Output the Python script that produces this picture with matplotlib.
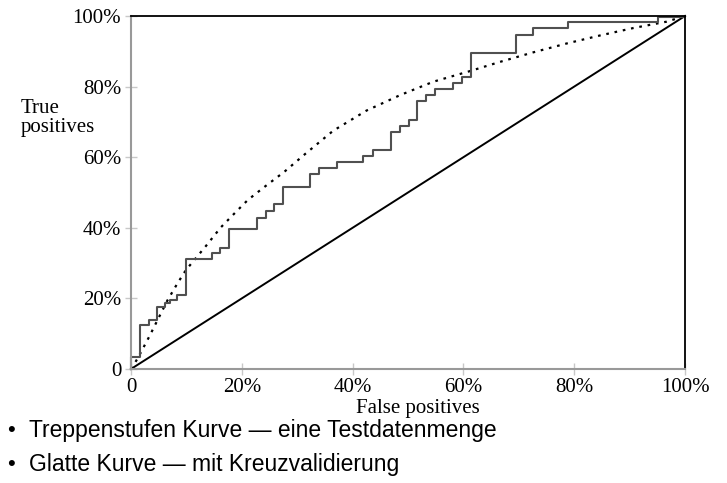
import matplotlib
matplotlib.use('Agg')
import matplotlib.pyplot as plt

# Step curve (one test set): FP positions where TP jumps, and TP after the jump (in %)
step_fp = [0, 0, 1.6, 3.25, 4.75, 6.1, 7.0, 8.25, 9.9, 14.6, 16.1, 17.7, 22.7, 24.3, 25.8,
           27.5, 32.4, 34.0, 37.2, 41.9, 43.6, 46.9, 48.6, 50.1, 51.7, 53.2, 54.9, 58.2,
           59.8, 61.4, 69.5, 72.6, 78.9, 95.2, 100]
step_tp = [0, 3.5, 12.5, 13.9, 17.6, 18.6, 19.5, 21.0, 31.1, 32.8, 34.4, 39.8, 42.9, 44.7, 46.7,
           51.6, 55.2, 57.0, 58.7, 60.3, 61.9, 67.2, 68.9, 70.5, 75.9, 77.6, 79.2, 80.9,
           82.6, 89.6, 94.7, 96.5, 98.2, 99.7, 100]

# Smooth curve (cross-validation)
smooth_fp = [0, 1.2, 3.3, 4.8, 6.6, 8.4, 9.9, 11.7, 13.5, 16.2, 19.0, 21.1, 24.1, 27.7, 31.5,
             36.5, 42.5, 48.6, 54.6, 61.2, 66.6, 72.6, 78.6, 84.7, 90.7, 96.7, 100]
smooth_tp = [0, 3.0, 9.2, 13.9, 19.5, 24.3, 28.0, 31.4, 34.8, 40.1, 44.6, 47.9, 51.6, 55.9, 61.0,
             67.5, 73.2, 77.6, 81.4, 84.4, 87.0, 89.7, 92.2, 94.5, 96.6, 98.4, 100]

diag = [0, 100]

ticks = [0, 20, 40, 60, 80, 100]
tick_labels = ['0', '20%', '40%', '60%', '80%', '100%']

serif = 'Liberation Serif'
sans = 'Liberation Sans'

fig = plt.figure(figsize=(7.27, 4.83), dpi=100)
ax = fig.add_axes([131 / 727, 1 - 369 / 483, 554 / 727, 353 / 483])

ax.plot(diag, diag, color='black', linewidth=1.4, clip_on=False)
ax.plot(smooth_fp, smooth_tp, color='black', linewidth=1.6, linestyle=(0, (1.2, 2.6)), clip_on=False)
ax.plot(step_fp, step_tp, color='#505050', linewidth=1.5, drawstyle='steps-post', clip_on=False)

ax.set_xlim(0, 100)
ax.set_ylim(0, 100)
ax.set_xticks(ticks)
ax.set_yticks(ticks)
ax.set_xticklabels(tick_labels, fontfamily=serif, fontsize=15)
ax.set_yticklabels(tick_labels, fontfamily=serif, fontsize=15)
ax.tick_params(direction='inout', length=8, width=1, color='#c8c8c8')
ax.tick_params(axis='x', pad=2.5)
ax.tick_params(axis='y', pad=3)

for s in ['left', 'bottom']:
    ax.spines[s].set_color('#999999')
    ax.spines[s].set_linewidth(1.5)
for s in ['top', 'right']:
    ax.spines[s].set_color('black')
    ax.spines[s].set_linewidth(1.3)

fig.text(21 / 727, 1 - 118 / 483, 'True\npositives', ha='left', va='center',
         fontfamily=serif, fontsize=15, linespacing=1.0)
fig.text(418 / 727, 1 - 408 / 483, 'False positives', ha='center', va='center',
         fontfamily=serif, fontsize=15)

bullet_lines = ['Treppenstufen Kurve — eine Testdatenmenge', 'Glatte Kurve — mit Kreuzvalidierung']
for i, line in enumerate(bullet_lines):
    y = 1 - (431 + 34 * i) / 483
    fig.text(7 / 727, y, '•', ha='left', va='center', fontfamily=sans, fontsize=16)
    fig.text(29 / 727, y, line, ha='left', va='center', fontfamily=sans, fontsize=16.5)

fig.savefig('out.png', dpi=100)
